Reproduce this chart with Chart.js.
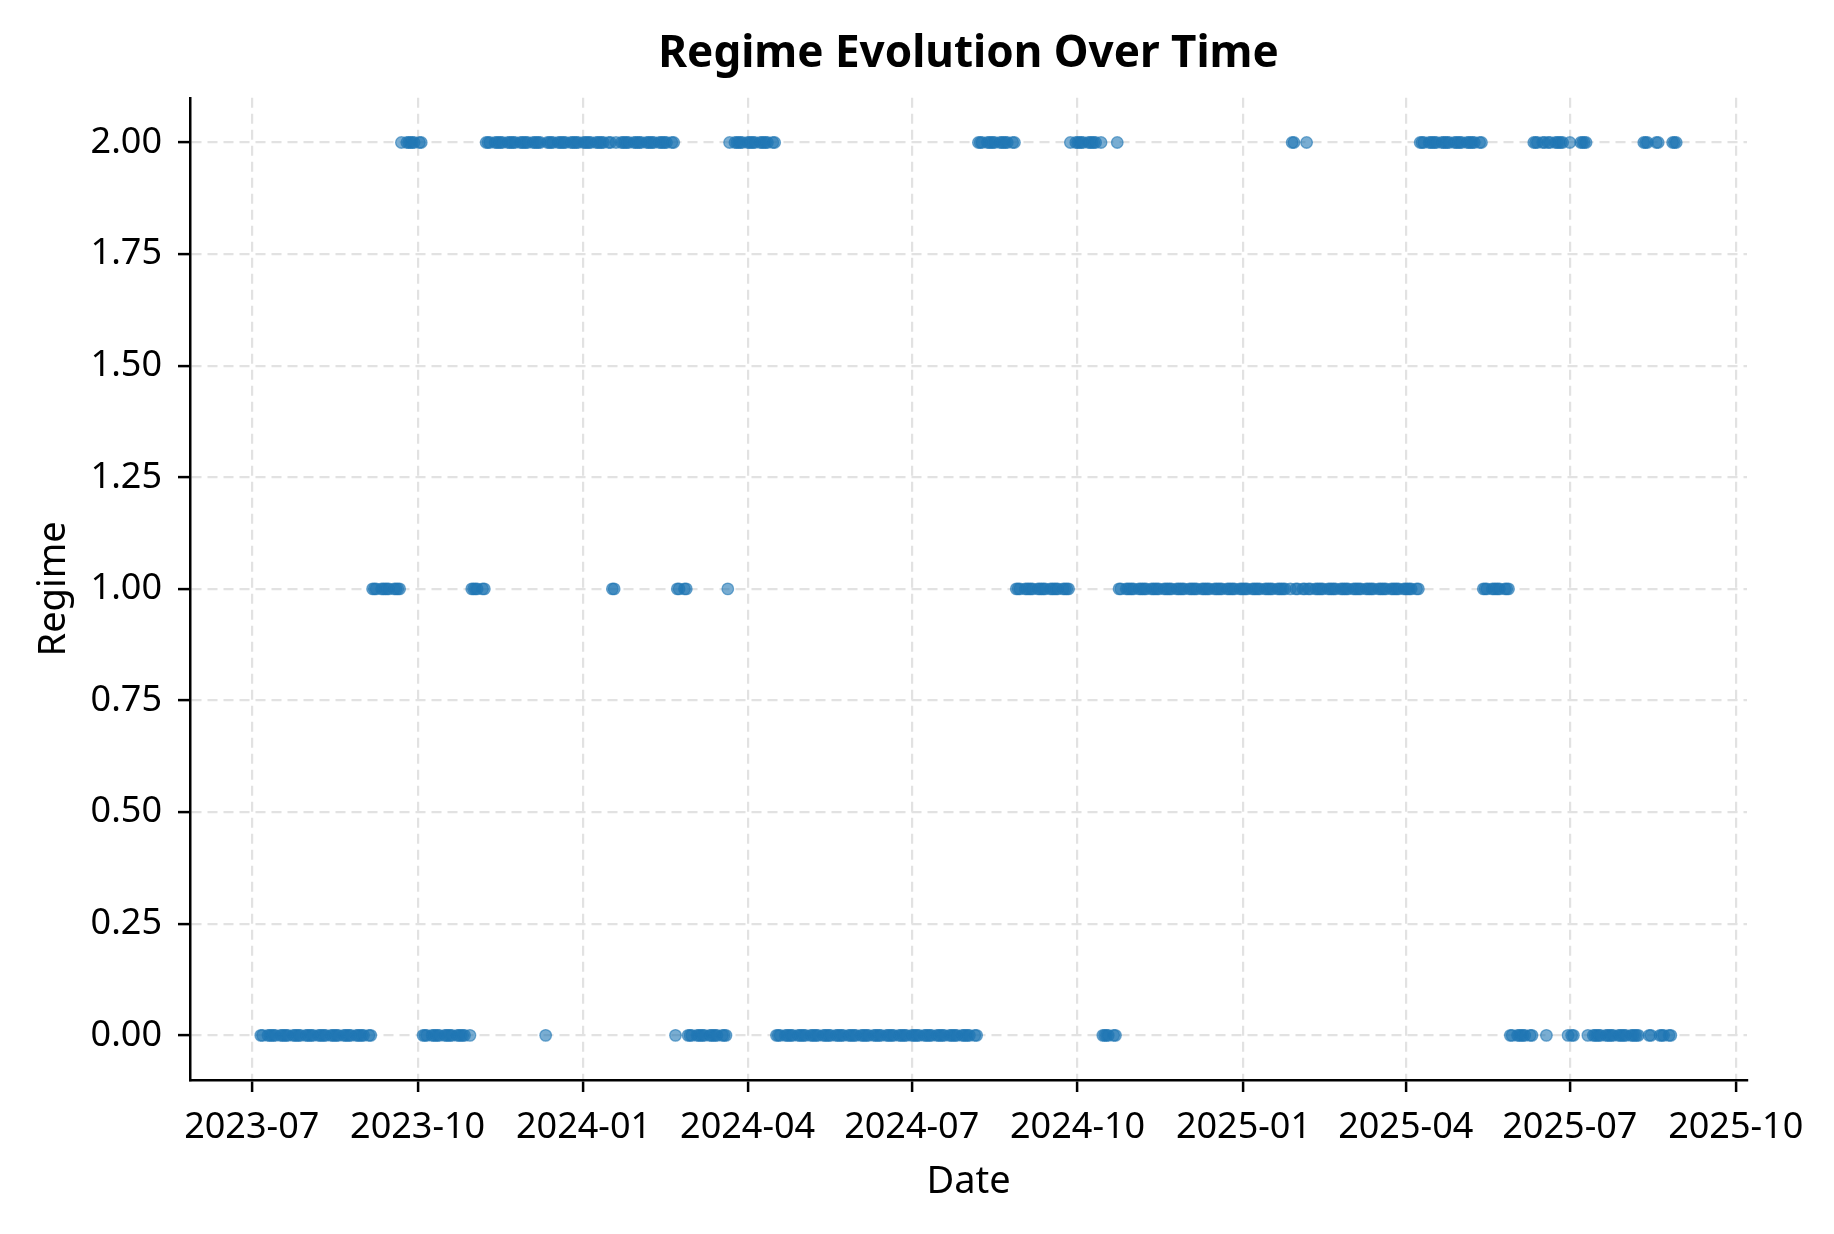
<!DOCTYPE html>
<html><head><meta charset="utf-8">
<script src="https://cdn.jsdelivr.net/npm/chart.js@4.4.1/dist/chart.umd.min.js"></script>
<style>html,body{margin:0;padding:0;background:#fff;}#wrap{width:1834px;height:1234px;}</style>
</head><body><div id="wrap"><canvas id="c" width="1834" height="1234"></canvas></div>
<script>
// Regime runs (trading days inside each run)
const runStart = ['2023-07-06','2023-09-06','2023-09-22','2023-10-04','2023-10-31','2023-11-08','2023-12-11','2023-12-12','2024-01-17','2024-01-19','2024-02-21','2024-02-22','2024-02-28','2024-03-21','2024-03-22','2024-04-17','2024-08-07','2024-08-28','2024-09-27','2024-10-15','2024-10-23','2024-10-24','2025-01-28','2025-01-30','2025-02-05','2025-02-06','2025-04-09','2025-05-14','2025-05-29','2025-06-11','2025-06-18','2025-06-19','2025-06-30','2025-07-01','2025-07-02','2025-07-07','2025-07-11','2025-08-11','2025-08-14','2025-08-18','2025-08-20','2025-08-27'];
const runEnd   = ['2023-09-05','2023-09-21','2023-10-03','2023-10-30','2023-11-07','2023-12-08','2023-12-11','2024-01-16','2024-01-18','2024-02-20','2024-02-21','2024-02-27','2024-03-20','2024-03-21','2024-04-16','2024-08-06','2024-08-27','2024-09-26','2024-10-14','2024-10-22','2024-10-23','2025-01-27','2025-01-29','2025-02-04','2025-02-05','2025-04-08','2025-05-13','2025-05-28','2025-06-10','2025-06-17','2025-06-18','2025-06-27','2025-06-30','2025-07-01','2025-07-03','2025-07-10','2025-08-08','2025-08-13','2025-08-15','2025-08-19','2025-08-26','2025-08-29'];
const runRegime = [0,1,2,0,1,2,0,2,1,2,0,1,0,1,2,0,2,1,2,0,2,1,2,1,2,1,2,1,0,2,0,2,0,2,0,2,0,2,0,2,0,2];
const xTickLabels = ['2023-07','2023-10','2024-01','2024-04','2024-07','2024-10','2025-01','2025-04','2025-07','2025-10'];
const yTickValues = [0,0.25,0.5,0.75,1,1.25,1.5,1.75,2];

const DAY = 86400000;
function dayNum(s){const p=s.split('-').map(Number);return Date.UTC(p[0],p[1]-1,p[2]||1)/DAY;}
function fmtMonth(n){const d=new Date(Math.round(n)*DAY);return d.getUTCFullYear()+'-'+String(d.getUTCMonth()+1).padStart(2,'0');}

const points=[];
for(let i=0;i<runStart.length;i++){
  for(let d=dayNum(runStart[i]);d<=dayNum(runEnd[i]);d++){
    const wd=new Date(d*DAY).getUTCDay();
    if(wd===0||wd===6) continue;
    points.push({x:d,y:runRegime[i]});
  }
}
const xFirst=points[0].x, xLast=points[points.length-1].x, span=xLast-xFirst;
const xTickValues=xTickLabels.map(dayNum);

const FONT='"Noto Sans", "DejaVu Sans", sans-serif';
const TXT='#000';
const GRID='#e2e2e2';

new Chart(document.getElementById('c'),{
  type:'scatter',
  data:{datasets:[{
    data:points,
    backgroundColor:'rgba(31,119,180,0.6)',
    borderColor:'rgba(31,119,180,0.6)',
    borderWidth:1.3,
    pointRadius:5.8,
    pointHoverRadius:5.8
  }]},
  options:{
    responsive:false,
    devicePixelRatio:1,
    animation:false,
    layout:{padding:{left:0,right:87,top:0,bottom:0}},
    plugins:{
      legend:{display:false},
      tooltip:{enabled:false},
      title:{display:true,text:'Regime Evolution Over Time',fullSize:false,color:TXT,
        font:{family:FONT,size:44,weight:'bold',lineHeight:1.2},padding:{top:28,bottom:17}}
    },
    scales:{
      x:{type:'linear',position:'bottom',min:xFirst-0.05*span,max:xLast+0.05*span,
        afterBuildTicks:s=>{s.ticks=xTickValues.map(v=>({value:v}));},
        afterFit:s=>{s.height=154;},
        ticks:{autoSkip:false,maxRotation:0,color:TXT,padding:14,font:{family:FONT,size:36},
          callback:v=>fmtMonth(v)},
        grid:{color:GRID,lineWidth:2.2,tickColor:'#000',tickWidth:2.5,tickLength:12,tickBorderDash:[]},
        border:{display:true,color:'#000',width:2.5,dash:[10,6]},
        title:{display:true,text:'Date',color:TXT,font:{family:FONT,size:38,lineHeight:1.2},padding:{top:0,bottom:29}}
      },
      y:{type:'linear',min:-0.1,max:2.1,
        afterBuildTicks:s=>{s.ticks=yTickValues.map(v=>({value:v}));},
        afterFit:s=>{s.width=190;},
        ticks:{autoSkip:false,color:TXT,padding:16,font:{family:FONT,size:36},
          callback:v=>Number(v).toFixed(2)},
        grid:{color:GRID,lineWidth:2.2,tickColor:'#000',tickWidth:2.5,tickLength:12,tickBorderDash:[]},
        border:{display:true,color:'#000',width:2.5,dash:[10,6]},
        title:{display:true,text:'Regime',color:TXT,font:{family:FONT,size:38,lineHeight:1.2},padding:{top:31,bottom:0}}
      }
    }
  }
});
</script></body></html>
